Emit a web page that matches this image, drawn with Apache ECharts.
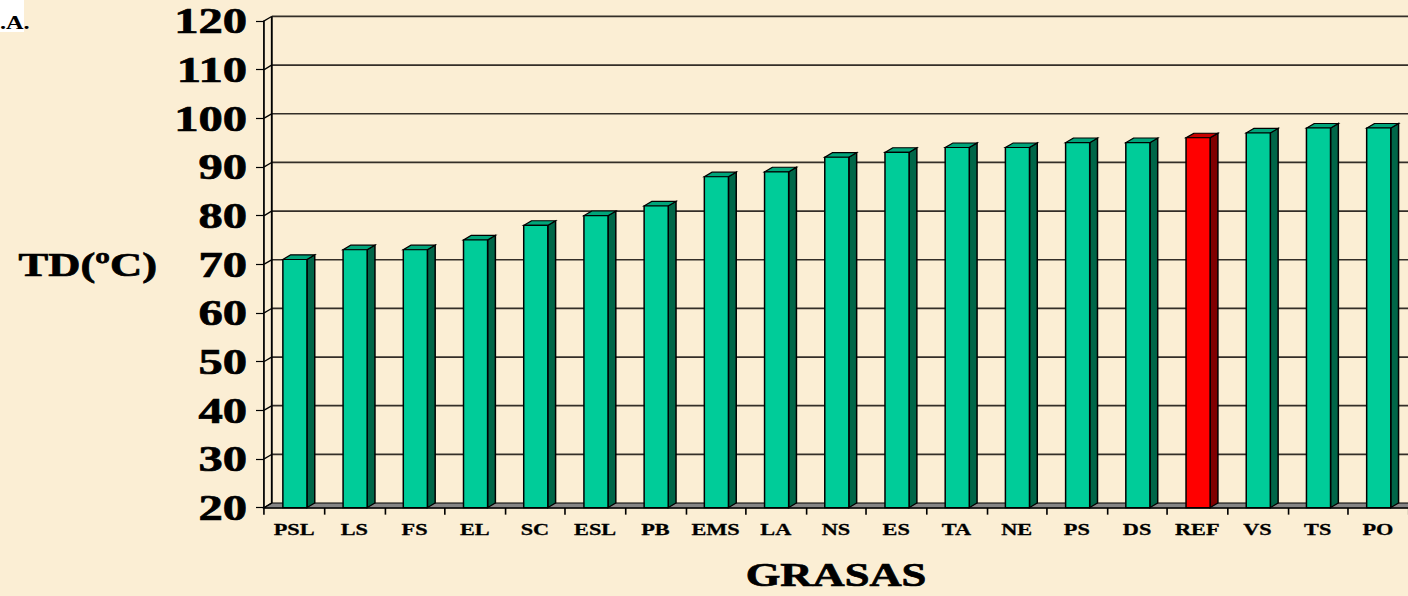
<!DOCTYPE html>
<html>
<head>
<meta charset="utf-8">
<title>TD por grasa</title>
<script src="https://cdn.jsdelivr.net/npm/echarts@6/dist/echarts.min.js"></script>
<style>
  html, body { margin: 0; padding: 0; background: #FBEED4; overflow: hidden; }
  #chart { height: 596px; transform-origin: 0 0; }
</style>
</head>
<body>
<div id="chart"></div>
<script>
// Grasas ensayadas y su temperatura TD (ºC)
const categories = ['PSL', 'LS', 'FS', 'EL', 'SC', 'ESL', 'PB', 'EMS', 'LA', 'NS',
                    'ES', 'TA', 'NE', 'PS', 'DS', 'REF', 'VS', 'TS', 'PO'];
const tdValues = [71, 73, 73, 75, 78, 80, 82, 88, 89, 92,
                  93, 94, 94, 95, 95, 96, 97, 98, 98];
const yTicks = [20, 30, 40, 50, 60, 70, 80, 90, 100, 110, 120];
const referenceName = 'REF';

// Serif lettering is drawn wide: the whole drawing is widened horizontally.
const STRETCH = 1.35;
const PAGE_W = 1408, PAGE_H = 596;
const W = PAGE_W / STRETCH;

// Depth of the pseudo-3D effect (in drawing units)
const DX = 7.8 / STRETCH;
const DY = 4.6;
const Y_MIN = yTicks[0];
const Y_MAX = yTicks[yTicks.length - 1];

const palette = {
  normal: { front: '#00CC99', side: '#006648', top: '#00A57A' },
  ref:    { front: '#FF0000', side: '#800000', top: '#C80000' }
};
const serif = "'Liberation Serif', 'Times New Roman', serif";
// heavier strokes for the large lettering
const heavy = { textBorderColor: '#000', textBorderWidth: 0.7 };

const el = document.getElementById('chart');
el.style.width = W + 'px';
el.style.transform = 'scaleX(' + STRETCH + ')';

// Back wall, floor and gridlines of the 3D frame
function renderWall(params, api) {
  const v = api.value(1);
  const band = api.size([1, 0])[0];
  const p = api.coord([0, v]);
  const xL = p[0] - band / 2;
  const xR = api.coord([categories.length - 1, v])[0] + band / 2;
  const y = p[1];
  const children = [];
  if (v === Y_MIN) {
    children.push({
      type: 'polygon',
      shape: { points: [[xL, y], [xR + DX, y], [xR + DX, y - DY], [xL + DX, y - DY]] },
      style: { fill: '#858585', stroke: '#000', lineWidth: 1 }
    });
  } else {
    children.push({
      type: 'line',
      shape: { x1: xL + DX, y1: y - DY, x2: xR + DX + 20, y2: y - DY },
      style: { stroke: '#332e28', lineWidth: 1.7 }
    });
  }
  children.push({
    type: 'line',
    shape: { x1: xL, y1: y, x2: xL + DX, y2: y - DY },
    style: { stroke: '#000', lineWidth: 1.2 }
  });
  if (v === Y_MAX) {
    const yb = api.coord([0, Y_MIN])[1];
    children.push({
      type: 'line',
      shape: { x1: xL + DX, y1: y - DY, x2: xL + DX, y2: yb - DY },
      style: { stroke: '#000', lineWidth: 1.4 }
    });
  }
  return { type: 'group', children: children };
}

// One prism-like column per grasa
function renderBar(params, api) {
  const i = api.value(0);
  const v = api.value(1);
  const top = api.coord([i, v]);
  const base = api.coord([i, Y_MIN]);
  const band = api.size([1, 0])[0];
  const w = band * 0.4;
  const x0 = top[0] - w / 2 + 0.6;
  const x1 = x0 + w;
  const yt = top[1];
  const yb = base[1];
  const c = categories[i] === referenceName ? palette.ref : palette.normal;
  const line = { stroke: '#000', lineWidth: 1.1 };
  return {
    type: 'group',
    children: [
      { type: 'polygon',
        shape: { points: [[x1, yb], [x1 + DX, yb - DY], [x1 + DX, yt - DY], [x1, yt]] },
        style: Object.assign({ fill: c.side }, line) },
      { type: 'polygon',
        shape: { points: [[x0, yt], [x0 + DX, yt - DY], [x1 + DX, yt - DY], [x1, yt]] },
        style: Object.assign({ fill: c.top }, line) },
      { type: 'rect',
        shape: { x: x0, y: yt, width: w, height: yb - yt },
        style: Object.assign({ fill: c.front }, line) }
    ]
  };
}

const chart = echarts.init(el, null, { renderer: 'svg', width: W, height: PAGE_H });

chart.setOption({
  animation: false,
  backgroundColor: '#FBEED4',
  grid: {
    left: 264 / STRETCH,
    top: 21,
    width: (19 * 60.28) / STRETCH,
    height: 489,
    containLabel: false
  },
  graphic: [
    { type: 'rect', left: 0, top: 0, shape: { width: 24 / STRETCH, height: 32 },
      style: { fill: '#FFFFFF' }, z: 10 },
    { type: 'text', left: 0, top: 14, z: 11,
      style: { text: '.A.', font: "bold 18px 'Liberation Serif', serif", fill: '#000' } }
  ],
  xAxis: {
    type: 'category',
    data: categories,
    boundaryGap: true,
    axisLine: { lineStyle: { color: '#000', width: 1.5 } },
    axisTick: { show: true, length: 7, lineStyle: { color: '#000', width: 1.2 } },
    axisLabel: {
      margin: 13,
      color: '#000',
      fontFamily: serif,
      fontWeight: 'bold',
      fontSize: 16.5,
      interval: 0,
      textBorderColor: '#000',
      textBorderWidth: 0.3
    },
    splitLine: { show: false },
    name: 'GRASAS',
    nameLocation: 'middle',
    nameGap: 50,
    nameTextStyle: Object.assign({ color: '#000', fontFamily: serif, fontWeight: 'bold', fontSize: 33 }, heavy)
  },
  yAxis: {
    type: 'value',
    min: Y_MIN,
    max: Y_MAX,
    interval: 10,
    axisLine: { show: true, lineStyle: { color: '#000', width: 1.3 } },
    axisTick: { show: true, length: 8 / STRETCH, lineStyle: { color: '#000', width: 1.2 } },
    axisLabel: Object.assign({
      margin: 17 / STRETCH,
      color: '#000',
      fontFamily: serif,
      fontWeight: 'bold',
      fontSize: 36
    }, heavy),
    splitLine: { show: false },
    name: 'TD(ºC)',
    nameLocation: 'middle',
    nameRotate: 0,
    nameGap: 107 / STRETCH,
    nameTextStyle: Object.assign({ color: '#000', fontFamily: serif, fontWeight: 'bold', fontSize: 33 }, heavy)
  },
  series: [
    {
      type: 'custom',
      name: 'marco',
      z: 1,
      clip: false,
      silent: true,
      renderItem: renderWall,
      data: yTicks.map(v => [0, v])
    },
    {
      type: 'custom',
      name: 'TD',
      z: 3,
      clip: false,
      renderItem: renderBar,
      data: tdValues.map((v, i) => [i, v])
    }
  ]
});
</script>
</body>
</html>
